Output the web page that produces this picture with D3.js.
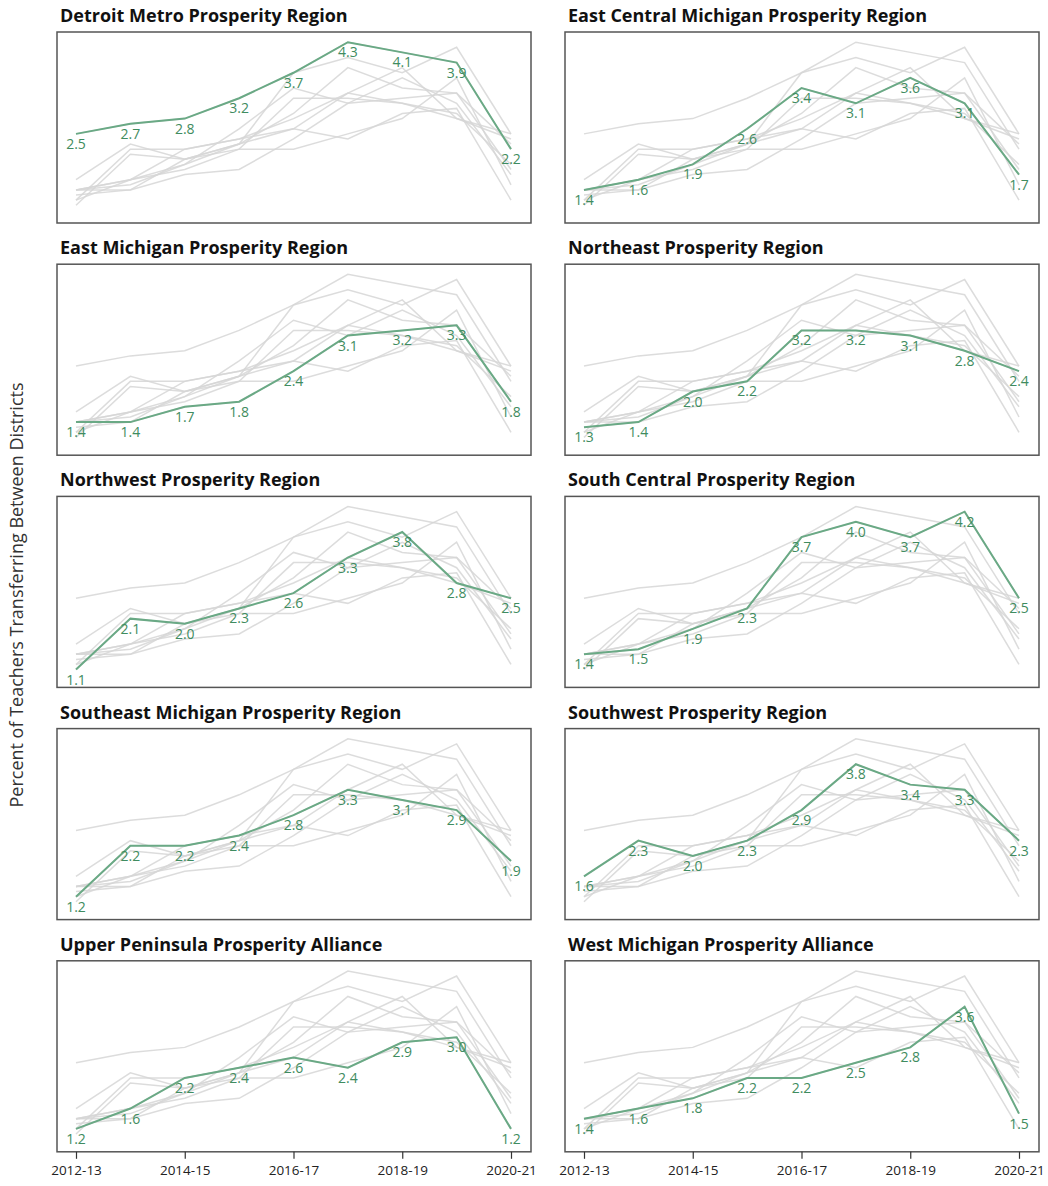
<!DOCTYPE html>
<html>
<head>
<meta charset="utf-8">
<script src="https://cdn.jsdelivr.net/npm/d3@7"></script>
<style>
  body { margin: 0; background: #fff; }
  text { font-family: "Open Sans", sans-serif; }
</style>
</head>
<body>
<script>
// school years on the x axis
var years = ["2012-13","2013-14","2014-15","2015-16","2016-17","2017-18","2018-19","2019-20","2020-21"]
var tickYears = ["2012-13","2014-15","2016-17","2018-19","2020-21"]

var regions = [
  "Detroit Metro Prosperity Region",
  "East Central Michigan Prosperity Region",
  "East Michigan Prosperity Region",
  "Northeast Prosperity Region",
  "Northwest Prosperity Region",
  "South Central Prosperity Region",
  "Southeast Michigan Prosperity Region",
  "Southwest Prosperity Region",
  "Upper Peninsula Prosperity Alliance",
  "West Michigan Prosperity Alliance"
]

// percent of teachers transferring, one array per region
var detroit      = [2.5, 2.7, 2.8, 3.2, 3.7, 4.3, 4.1, 3.9, 2.2]
var eastCentral  = [1.4, 1.6, 1.9, 2.6, 3.4, 3.1, 3.6, 3.1, 1.7]
var eastMichigan = [1.4, 1.4, 1.7, 1.8, 2.4, 3.1, 3.2, 3.3, 1.8]
var northeast    = [1.3, 1.4, 2.0, 2.2, 3.2, 3.2, 3.1, 2.8, 2.4]
var northwest    = [1.1, 2.1, 2.0, 2.3, 2.6, 3.3, 3.8, 2.8, 2.5]
var southCentral = [1.4, 1.5, 1.9, 2.3, 3.7, 4.0, 3.7, 4.2, 2.5]
var southeast    = [1.2, 2.2, 2.2, 2.4, 2.8, 3.3, 3.1, 2.9, 1.9]
var southwest    = [1.6, 2.3, 2.0, 2.3, 2.9, 3.8, 3.4, 3.3, 2.3]
var upperPen     = [1.2, 1.6, 2.2, 2.4, 2.6, 2.4, 2.9, 3.0, 1.2]
var westMichigan = [1.4, 1.6, 1.8, 2.2, 2.2, 2.5, 2.8, 3.6, 1.5]

var series = [detroit, eastCentral, eastMichigan, northeast, northwest,
              southCentral, southeast, southwest, upperPen, westMichigan]

function main() {

   var svg = d3.select("body")
               .append("svg")
               .attr("width",1048)
               .attr("height",1186)

   var colX = [57, 565]
   var boxW = 474
   var boxH = 191
   var rowTop = 32
   var rowStep = 232.2

   var y = d3.scaleLinear().domain([0.75,4.5])

   var line = d3.line()

   regions.forEach(function(name,i) {
      var col = i % 2
      var row = Math.floor(i / 2)
      var x0 = colX[col]
      var y0 = rowTop + row*rowStep

      var x = d3.scalePoint().domain(years).range([x0+19, x0+boxW-20])
      y.range([y0+boxH, y0])
      line.x(function(d,j){ return x(years[j]) })
          .y(function(d){ return y(d) })

      var g = svg.append("g")

      g.append("text")
       .attr("x", x0+3)
       .attr("y", y0-10)
       .attr("font-size",18)
       .attr("font-weight","bold")
       .attr("fill","#111")
       .text(name)

      g.append("rect")
       .attr("x",x0)
       .attr("y",y0)
       .attr("width",boxW)
       .attr("height",boxH)
       .attr("fill","#fff")
       .attr("stroke","#555")
       .attr("stroke-width",1.5)

      // every region in gray
      g.selectAll(".bg")
       .data(series)
       .enter().append("path")
       .attr("class","bg")
       .attr("d", line)
       .attr("fill","none")
       .attr("stroke","#d6d6d6")
       .attr("stroke-width",1.5)
       .attr("opacity",0.85)

      // highlighted region
      g.append("path")
       .attr("d", line(series[i]))
       .attr("fill","none")
       .attr("stroke","#6aa985")
       .attr("stroke-width",2)

      g.selectAll(".lbl")
       .data(series[i])
       .enter().append("text")
       .attr("class","lbl")
       .attr("x", function(d,j){ return x(years[j]) })
       .attr("y", function(d){ return y(d) + 15 })
       .attr("text-anchor","middle")
       .attr("font-size",14)
       .attr("fill","#3f8c60")
       .text(function(d){ return d.toFixed(1) })

      if (row == 4) {
         var axis = d3.axisBottom(x)
                      .tickValues(tickYears)
                      .tickSize(7)
                      .tickPadding(7)
         var ax = g.append("g")
                   .attr("transform","translate(0," + (y0+boxH) + ")")
                   .call(axis)
         ax.select(".domain").remove()
         ax.selectAll("line").attr("stroke","#333").attr("stroke-width",1.2)
         ax.selectAll("text")
           .attr("font-size",13.5)
           .attr("font-family","Open Sans, sans-serif")
           .attr("fill","#222")
      }
   })

   svg.append("text")
      .attr("transform","translate(23,595) rotate(-90)")
      .attr("text-anchor","middle")
      .attr("font-size",18)
      .attr("fill","#333")
      .text("Percent of Teachers Transferring Between Districts")
}

main()
</script>
</body>
</html>
